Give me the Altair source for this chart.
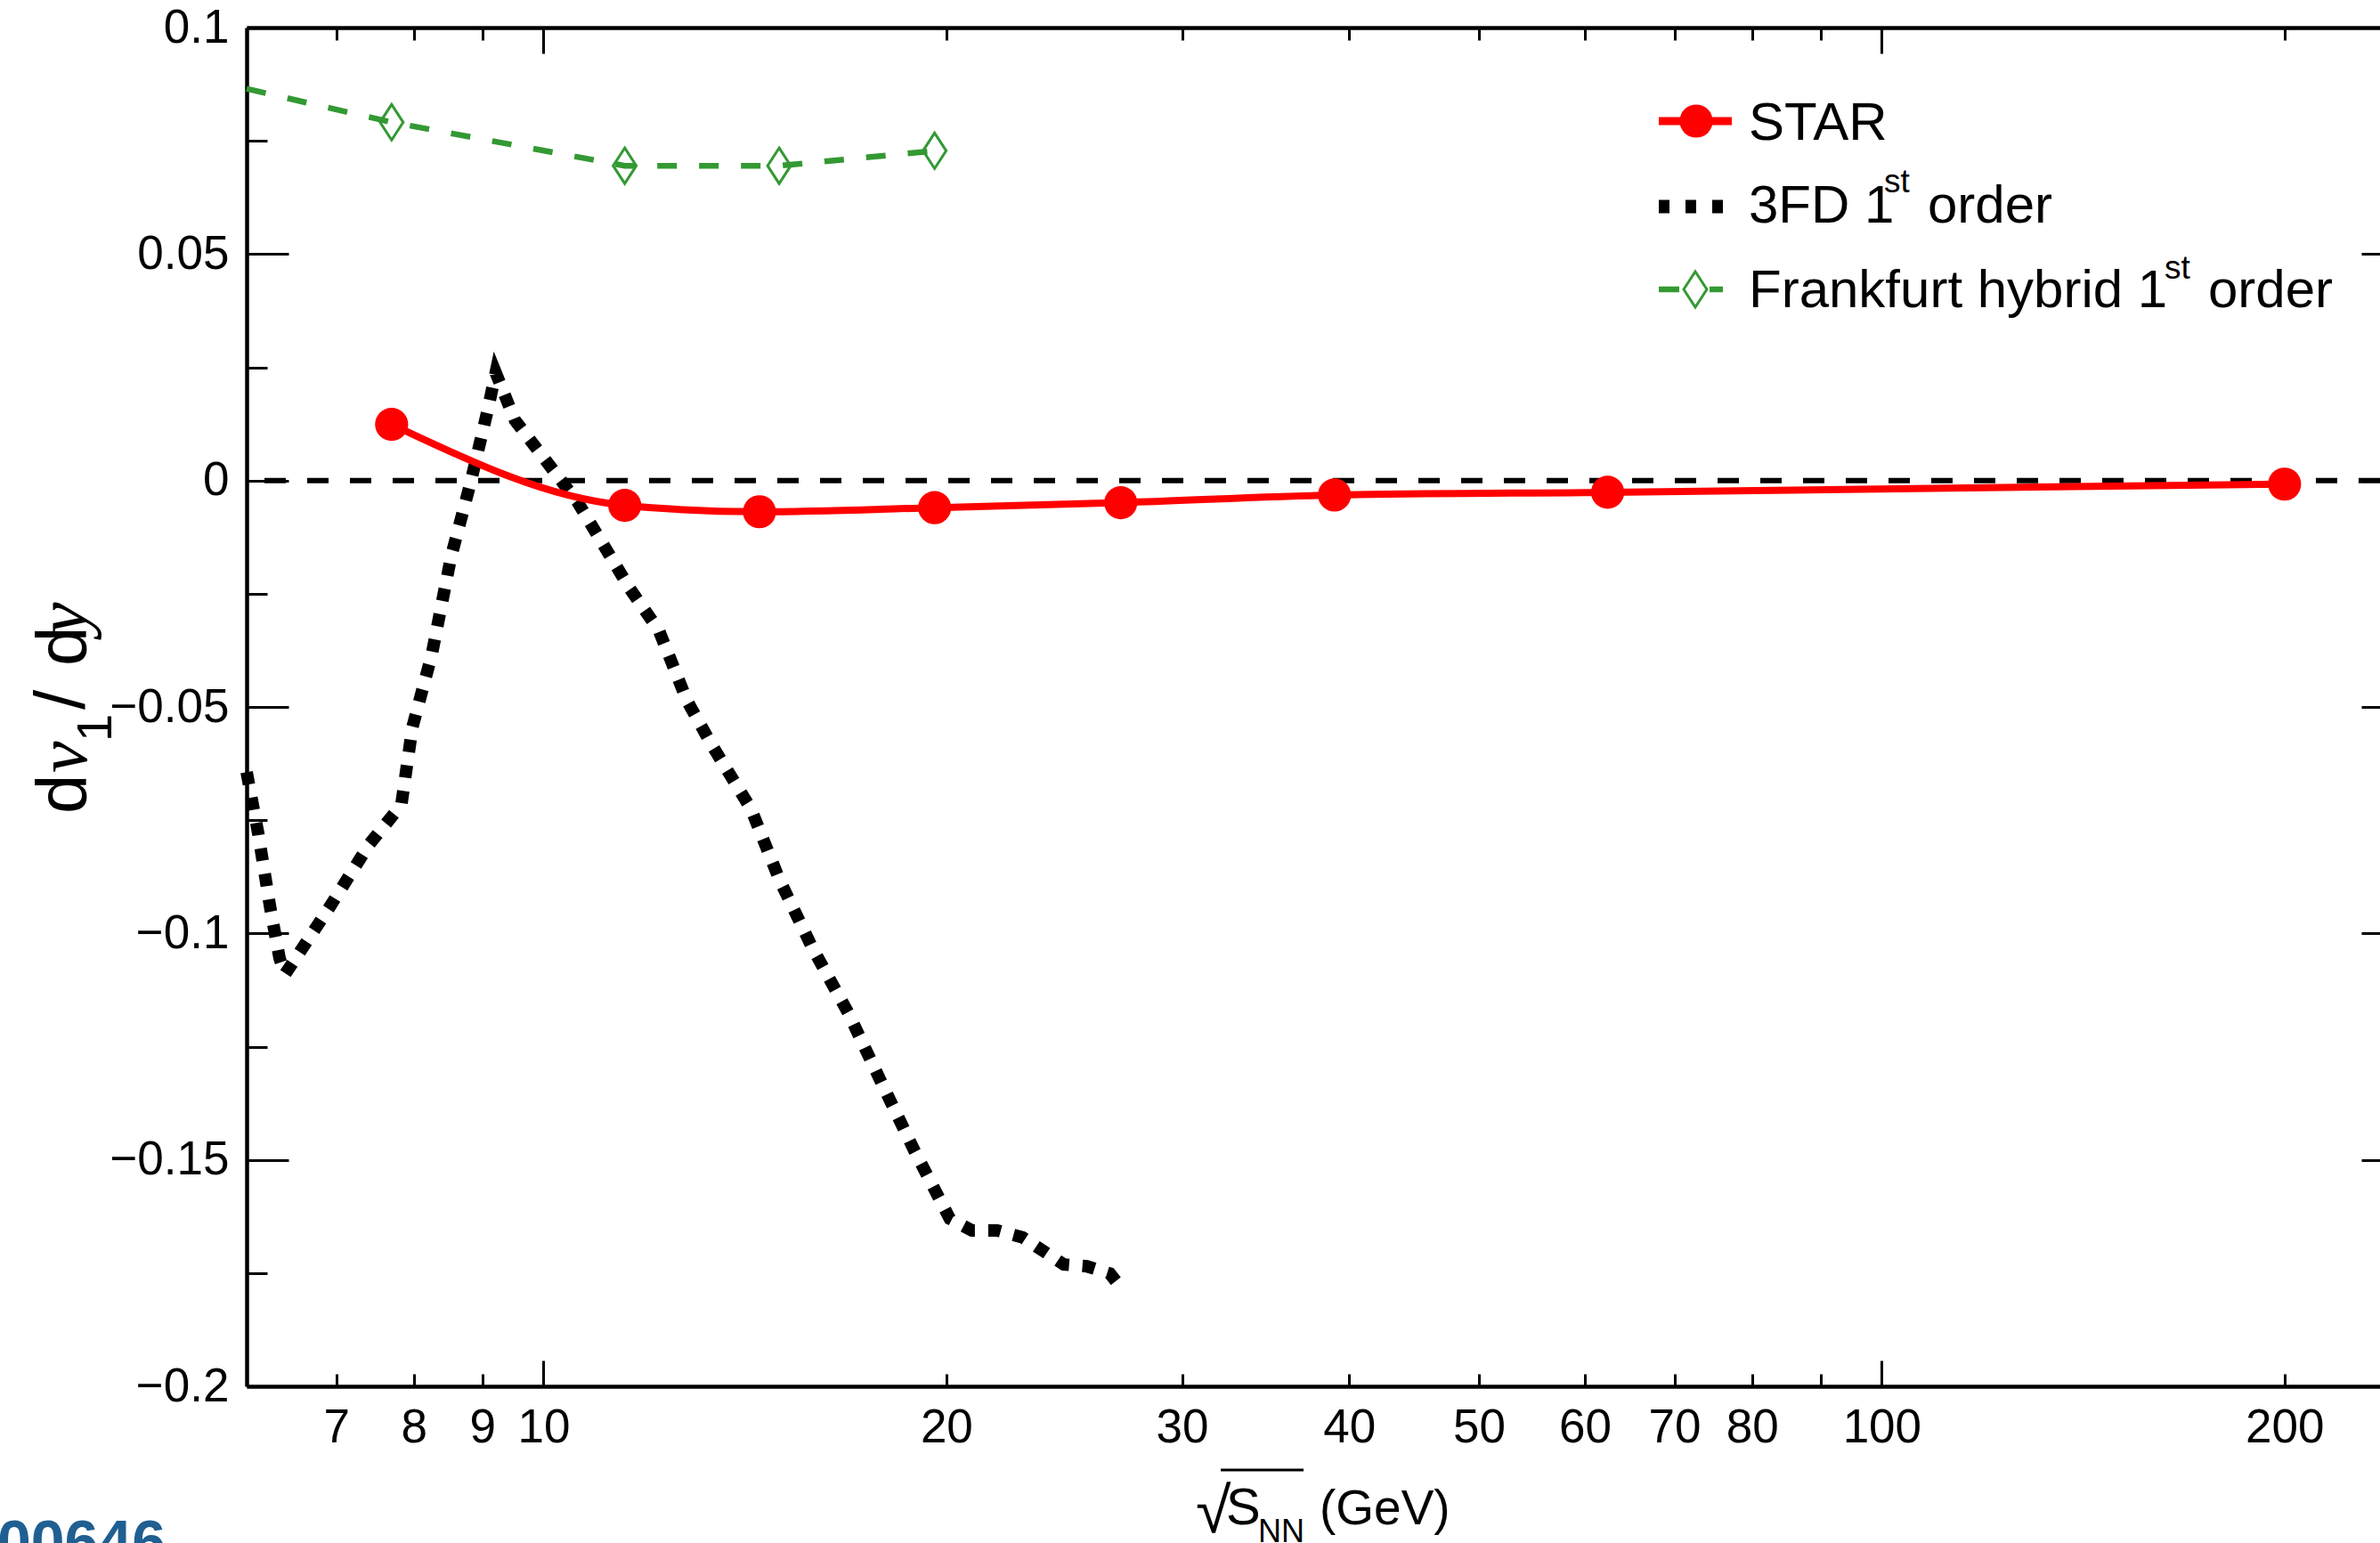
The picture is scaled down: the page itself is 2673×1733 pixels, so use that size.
import altair as alt
import pandas as pd

# ---------------- data ----------------
star_x = [7.7, 11.5, 14.5, 19.6, 27.0, 39.0, 62.4, 200.0]
star_y = [0.0124, -0.0055, -0.0069, -0.0060, -0.0049, -0.0032, -0.0026, -0.0008]

fh_line_x = [6.0, 7.7, 11.5, 15.0, 19.6]
fh_line_y = [0.0865, 0.0791, 0.0695, 0.0695, 0.0728]
fh_marker_x = [7.7, 11.5, 15.0, 19.6]
fh_marker_y = [0.0791, 0.0695, 0.0695, 0.0728]

fd_x = [6.00, 6.12, 6.25, 6.35, 6.41, 6.91, 7.41, 7.83, 7.98, 8.25, 8.53, 8.82, 9.09, 9.21,
        9.52, 10.04, 10.60, 11.07, 11.59, 12.20, 12.80, 13.34, 14.29, 15.00, 15.87, 16.91,
        17.89, 18.94, 20.12, 20.90, 21.83, 22.80, 24.48, 25.47, 26.50, 27.12]
fd_y = [-0.0644, -0.0778, -0.0945, -0.1055, -0.1090, -0.0945, -0.0803, -0.0716, -0.0545,
        -0.0385, -0.0168, -0.0005, 0.0159, 0.0238, 0.0133, 0.0044, -0.0047, -0.0139,
        -0.0237, -0.0332, -0.0486, -0.0581, -0.0725, -0.0880, -0.1030, -0.1178,
        -0.1330, -0.1481, -0.1630, -0.1656, -0.1656, -0.1671, -0.1731, -0.1735, -0.1751, -0.1789]

zero_y = [0.0]

x_label_values = [7, 8, 9, 10, 20, 30, 40, 50, 60, 70, 80, 100, 200]
x_tick_values = [7, 8, 9, 10, 20, 30, 40, 50, 60, 70, 80, 90, 100, 200]
y_label_values = [-0.2, -0.15, -0.1, -0.05, 0.0, 0.05, 0.1]
y_tick_values = [-0.2, -0.175, -0.15, -0.125, -0.1, -0.075, -0.05, -0.025, 0.0,
                 0.025, 0.05, 0.075, 0.1]

legend_labels = ["STAR", "3FD 1", "st", "order", "Frankfurt hybrid 1", "st", "order"]

# ---------------- styling ----------------
W, H = 2396, 1526
FONT = "Liberation Sans"
SERIF = "Liberation Serif"
GREEN = "#339933"
RED = "#ff0000"
DIAMOND = "M0,-1L0.65,0L0,1L-0.65,0Z"

xscale = alt.Scale(type="log", domain=[6, 235.7], nice=False)
yscale = alt.Scale(domain=[-0.2, 0.1], nice=False, zero=False)

star_df = pd.DataFrame({"x": star_x, "y": star_y})
fh_line_df = pd.DataFrame({"x": fh_line_x, "y": fh_line_y})
fh_pts_df = pd.DataFrame({"x": fh_marker_x, "y": fh_marker_y})
fd_df = pd.DataFrame({"x": fd_x, "y": fd_y})
zero_df = pd.DataFrame({"y": zero_y})
one = pd.DataFrame({"k": [0]})


def X(axis=None):
    return alt.X("x:Q", scale=xscale, axis=axis)


def Y(axis=None):
    return alt.Y("y:Q", scale=yscale, axis=axis)


x_major = "datum.value == 10 || datum.value == 100"
y_major = "abs(datum.value * 20 - round(datum.value * 20)) < 0.01"
xt = {"condition": {"test": x_major, "value": 29}, "value": 14}
yt = {"condition": {"test": y_major, "value": 47}, "value": 23}

main_x_axis = alt.Axis(orient="bottom", values=x_label_values, format="d", ticks=False,
                       domain=True, domainColor="black", domainWidth=4.5,
                       labelFont=FONT, labelFontSize=53, labelColor="black",
                       labelPadding=20, labelOverlap=False, labelFlush=False,
                       grid=False, title=None)
main_y_axis = alt.Axis(orient="left", values=y_label_values, ticks=False,
                       domain=True, domainColor="black", domainWidth=4.5,
                       labelFont=FONT, labelFontSize=53, labelColor="black",
                       labelPadding=20, labelOverlap=False, labelFlush=False,
                       labelExpr="datum.value < 0 ? '\u2212' + format(-datum.value, '.2~f') : format(datum.value, '.2~f')",
                       grid=False, title=None)

# inward ticks: bottom & left
axA_x = alt.Axis(orient="top", offset=-H, values=x_tick_values, labels=False, domain=False,
                 ticks=True, tickSize=xt, tickColor="black", tickWidth=3, grid=False, title=None)
axA_y = alt.Axis(orient="right", offset=-W, values=y_tick_values, labels=False, domain=False,
                 ticks=True, tickSize=yt, tickColor="black", tickWidth=3, grid=False, title=None)
# inward ticks: top & right (with frame line on top)
axB_x = alt.Axis(orient="bottom", offset=-H, values=x_tick_values, labels=False, domain=True,
                 domainColor="black", domainWidth=4.5,
                 ticks=True, tickSize=xt, tickColor="black", tickWidth=3, grid=False, title=None)
axB_y = alt.Axis(orient="left", offset=-(W + 26), values=y_tick_values, labels=False, domain=True,
                 domainColor="black", domainWidth=4.5,
                 ticks=True, tickSize=yt, tickColor="black", tickWidth=3, grid=False, title=None)

zero = alt.Chart(zero_df).mark_rule(color="black", strokeWidth=6, strokeDash=[24, 24]).encode(y=Y())

fd_line = alt.Chart(fd_df).mark_line(color="black", strokeWidth=14, strokeDash=[14, 15],
                                     strokeCap="butt", strokeJoin="miter").encode(x=X(), y=Y())

fh_line = alt.Chart(fh_line_df).mark_line(color=GREEN, strokeWidth=6.5,
                                          strokeDash=[22, 25]).encode(x=X(), y=Y())
fh_pts = alt.Chart(fh_pts_df).mark_point(shape=DIAMOND, size=1600, filled=False, color=GREEN,
                                         strokeWidth=3, opacity=1).encode(x=X(), y=Y())

star_line = alt.Chart(star_df).mark_line(color=RED, strokeWidth=8,
                                         interpolate="monotone").encode(x=X(main_x_axis), y=Y(main_y_axis))
star_pts = alt.Chart(star_df).mark_point(shape="circle", filled=True, size=1385, color=RED,
                                         opacity=1).encode(x=X(), y=Y())

tickA = alt.Chart(star_df).mark_point(opacity=0).encode(x=X(axA_x), y=Y(axA_y))
tickB = alt.Chart(star_df).mark_point(opacity=0).encode(x=X(axB_x), y=Y(axB_y))


def txt(s, x, y, size, font=FONT, style="normal", angle=0, align="left",
        baseline="alphabetic", color="black", weight="normal"):
    return alt.Chart(one).mark_text(text=s, font=font, fontSize=size, fontStyle=style,
                                    angle=angle, align=align, baseline=baseline,
                                    color=color, fontWeight=weight).encode(
        x=alt.value(x), y=alt.value(y))


# legend
leg = [
    alt.Chart(one).mark_rule(color=RED, strokeWidth=9).encode(
        x=alt.value(1586), x2=alt.value(1668), y=alt.value(105)),
    alt.Chart(one).mark_point(shape="circle", filled=True, size=1385, color=RED, opacity=1).encode(
        x=alt.value(1628), y=alt.value(105)),
    alt.Chart(one).mark_rule(color="black", strokeWidth=15, strokeDash=[12, 18], strokeCap="butt").encode(
        x=alt.value(1586), x2=alt.value(1658), y=alt.value(201)),
    alt.Chart(one).mark_rule(color=GREEN, strokeWidth=6.5, strokeDash=[23, 34], strokeCap="butt").encode(
        x=alt.value(1586), x2=alt.value(1658), y=alt.value(294)),
    alt.Chart(one).mark_point(shape=DIAMOND, size=1600, filled=False, color=GREEN, strokeWidth=3,
                              opacity=1).encode(x=alt.value(1627), y=alt.value(294)),
    txt(legend_labels[0], 1687, 126, 60),
    txt(legend_labels[1], 1687, 219, 60),
    txt(legend_labels[2], 1839, 185, 37),
    txt(legend_labels[3], 1888, 219, 60),
    txt(legend_labels[4], 1687, 314, 60),
    txt(legend_labels[5], 2154, 282, 37),
    txt(legend_labels[6], 2203, 314, 60),
]

# y title  d v_1 / d y
ytitle = [
    txt("d", -180, 883, 80, angle=270),
    txt("v", -180, 837, 80, font=SERIF, style="italic", angle=270),
    txt("1", -152, 802, 56, angle=270),
    txt("/", -182, 766, 80, angle=270),
    txt("d", -180, 717, 80, angle=270),
    txt("y", -180, 681, 80, font=SERIF, style="italic", angle=270),
]

# x title  sqrt(S_NN) (GeV)
xtitle = [
    txt("\u221a", 1066, 1690, 72),
    alt.Chart(one).mark_rule(color="black", strokeWidth=3).encode(
        x=alt.value(1094), x2=alt.value(1187), y=alt.value(1620)),
    txt("S", 1100, 1681, 58),
    txt("NN", 1136, 1701, 36),
    txt("(GeV)", 1205, 1681, 55),
]

mark_txt = [txt("00646", -91, 1724, 68, weight="bold", color="#1f5f91", align="right")]

chart = alt.layer(
    zero, fd_line, fh_line, fh_pts, star_line, star_pts, tickA, tickB,
    *leg, *ytitle, *xtitle, *mark_txt
).resolve_axis(x="independent", y="independent").properties(
    width=W, height=H,
    autosize=alt.AutoSizeParams(type="none"),
    padding={"left": 277, "top": 31, "right": 0, "bottom": 176},
    background="white",
).configure_view(stroke=None)

chart.save("out.html", embed_options={"renderer": "svg", "actions": False})
